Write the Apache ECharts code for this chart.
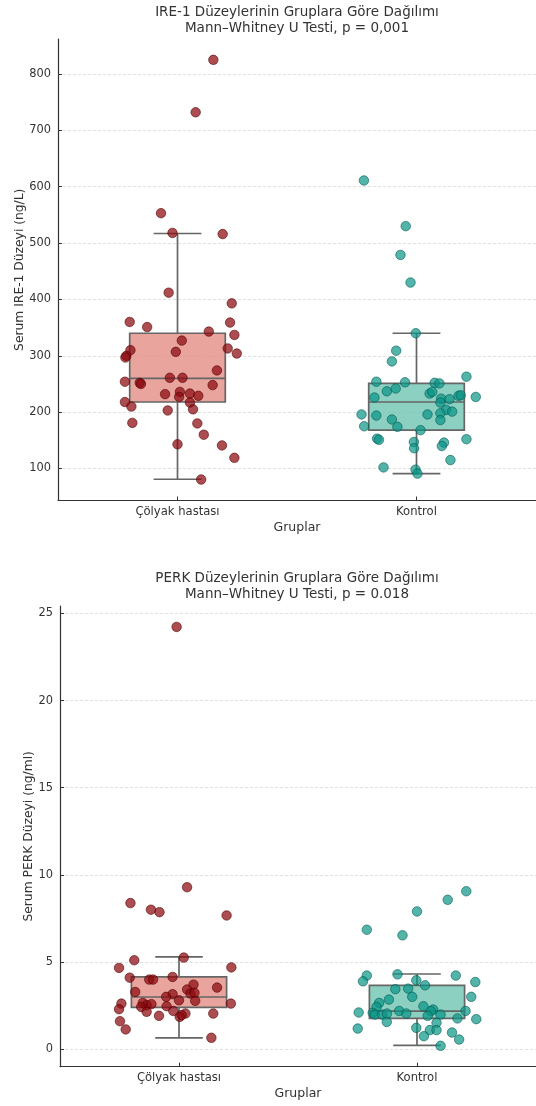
<!DOCTYPE html>
<html>
<head>
<meta charset="utf-8">
<script src="https://cdn.jsdelivr.net/npm/echarts@6/dist/echarts.min.js"></script>
<style>
html,body{margin:0;padding:0;background:#fff;}
#c{width:536px;height:1106px;}
</style>
</head>
<body>
<div id="c"></div>
<script>
const categories = ['Çölyak hastası', 'Kontrol'];
const ire1Ticks = [100, 200, 300, 400, 500, 600, 700, 800];
const perkTicks = [0, 5, 10, 15, 20, 25];

// box stats: [min whisker, Q1, median, Q3, max whisker]
const ire1Box = [[81, 218, 260, 340, 517], [91, 168, 218, 251, 340]];
const perkBox = [[0.65, 2.40, 2.99, 4.14, 5.29], [0.21, 1.76, 2.18, 3.66, 4.31]];

// IRE-1 points: values and horizontal jitter offsets
const ire1CeliacY = [825,732,553,518,516,412,393,360,351,359,343,337,327,310,300,297,307,313,304,254,252,250,261,261,274,248,232,236,227,233,229,218,210,203,217,205,181,180,160,143,141,119,80.5];
const ire1CeliacJ = [0.15,0.076,-0.069,-0.021,0.189,-0.037,0.227,-0.2,-0.127,0.22,0.131,0.238,0.018,-0.197,-0.214,-0.218,-0.007,0.21,0.248,-0.22,-0.158,-0.153,-0.032,0.021,0.165,0.147,-0.052,0.01,0.007,0.052,0.087,-0.22,-0.193,-0.041,0.052,0.065,-0.189,0.083,0.11,0,0.186,0.238,0.099];
const ire1ControlY = [611,530,479,430,340,309,290,254,253,263,252,251,237,242,233,236,226,224,223,229,230,227,217,196,194,196,204,201,198,186,187,174,175,168,153,151,152,147,136,146,140,115,102,98,91];
const ire1ControlJ = [-0.22,-0.045,-0.067,-0.025,-0.003,-0.085,-0.103,-0.168,-0.048,0.209,0.076,0.096,-0.124,-0.087,0.055,0.066,-0.176,0.103,0.138,0.176,0.185,0.248,0.1,-0.23,-0.168,0.046,0.124,0.149,0.1,0.1,-0.103,-0.08,-0.219,0.017,-0.165,-0.157,0.209,-0.011,-0.01,0.115,0.106,0.142,-0.138,-0.004,0.004];

// PERK points
const perkCeliacY = [24.23,9.29,8.38,8.0,7.86,7.67,5.25,5.1,4.66,4.69,4.1,3.99,3.99,4.14,3.7,3.42,3.53,3.28,3.19,3.23,3.15,3.0,2.77,2.8,2.61,2.29,2.65,2.52,2.58,2.42,2.46,2.61,2.14,1.91,2.19,2.04,1.85,1.95,2.04,1.6,1.13,0.65];
const perkCeliacJ = [-0.01,0.034,-0.204,-0.118,-0.082,0.2,0.02,-0.188,-0.252,0.22,-0.207,-0.125,-0.109,-0.027,0.061,0.034,0.16,-0.184,0.048,0.065,-0.027,-0.054,0.068,0,-0.242,-0.252,-0.152,-0.136,-0.116,-0.159,-0.052,0.218,-0.136,-0.084,-0.024,0.027,0.003,0.011,0.144,-0.248,-0.224,0.136];
const perkControlY = [9.06,8.57,7.9,6.85,6.53,4.22,3.89,4.29,4.22,3.85,3.95,3.66,3.44,3.47,3.0,3.0,2.84,2.65,2.42,2.1,2.08,1.98,1.98,2.04,2.19,2.04,2.46,2.27,2.18,1.91,1.98,1.76,2.19,1.72,1.56,1.18,1.22,1.51,1.09,1.09,0.74,0.95,0.55,0.19];
const perkControlJ = [0.207,0.129,0,-0.211,-0.061,-0.211,-0.227,-0.082,0.163,0.245,-0.003,0.034,-0.091,-0.037,-0.02,0.228,-0.118,-0.159,-0.17,-0.245,-0.186,-0.177,-0.146,-0.126,-0.075,-0.045,0.027,0.068,0.058,0.045,0.099,0.17,0.204,0.249,-0.127,-0.249,-0.003,0.082,0.054,0.082,0.029,0.147,0.177,0.099];

const FONT = 'DejaVu Sans';
const TXT = '#333';
const boxFill = ['rgba(226,138,130,0.78)', 'rgba(110,196,178,0.8)'];
const ptFill = ['rgba(140,8,14,0.9)', 'rgba(10,148,134,0.88)'];
const ptEdge = ['rgba(80,0,0,0.9)', 'rgba(0,85,80,0.9)'];

function pts(ys, js, cat) { return ys.map((y, i) => [cat + js[i], y]); }

function boxRender(params, api) {
  const c = api.value(0), mn = api.value(1), q1 = api.value(2), md = api.value(3), q3 = api.value(4), mx = api.value(5);
  const hw = 0.2, cw = 0.1;
  const tl = api.coord([c - hw, q3]), br = api.coord([c + hw, q1]);
  const ml = api.coord([c - hw, md]), mr = api.coord([c + hw, md]);
  const top = api.coord([c, mx]), bot = api.coord([c, mn]);
  const ctop = api.coord([c, q3]), cbot = api.coord([c, q1]);
  const capL1 = api.coord([c - cw, mx]), capR1 = api.coord([c + cw, mx]);
  const capL2 = api.coord([c - cw, mn]), capR2 = api.coord([c + cw, mn]);
  const ls = { stroke: '#666', lineWidth: 1.7 };
  return { type: 'group', children: [
    { type: 'line', shape: { x1: top[0], y1: top[1], x2: ctop[0], y2: ctop[1] }, style: ls },
    { type: 'line', shape: { x1: cbot[0], y1: cbot[1], x2: bot[0], y2: bot[1] }, style: ls },
    { type: 'line', shape: { x1: capL1[0], y1: capL1[1], x2: capR1[0], y2: capR1[1] }, style: ls },
    { type: 'line', shape: { x1: capL2[0], y1: capL2[1], x2: capR2[0], y2: capR2[1] }, style: ls },
    { type: 'rect', shape: { x: tl[0], y: tl[1], width: br[0] - tl[0], height: br[1] - tl[1] }, style: { fill: boxFill[c], stroke: '#666', lineWidth: 1.7 } },
    { type: 'line', shape: { x1: ml[0], y1: ml[1], x2: mr[0], y2: mr[1] }, style: ls }
  ]};
}

function xAxisDef(gi, gap) {
  return {
    type: 'value', gridIndex: gi, min: -0.5, max: 1.5,
    name: 'Gruplar', nameLocation: 'middle', nameGap: gap, nameMoveOverlap: false,
    nameTextStyle: { fontFamily: FONT, fontSize: 12.5, color: TXT },
    axisLine: { show: true, onZero: false, lineStyle: { color: '#333', width: 1.2 } },
    axisTick: { show: true, inside: true, length: 4, customValues: [0, 1], lineStyle: { color: '#333' } },
    axisLabel: { customValues: [0, 1], formatter: v => categories[Math.round(v)] || '', fontFamily: FONT, fontSize: 11.6, color: TXT, margin: 5 },
    splitLine: { show: false }
  };
}
function yAxisDef(gi, mn, mx, ticks, name, gap) {
  return {
    type: 'value', gridIndex: gi, min: mn, max: mx,
    name: name, nameLocation: 'middle', nameGap: gap, nameMoveOverlap: false,
    nameTextStyle: { fontFamily: FONT, fontSize: 12.3, color: TXT },
    axisLine: { show: true, onZero: false, lineStyle: { color: '#333', width: 1.2 } },
    axisTick: { show: true, inside: true, length: 4, customValues: ticks, lineStyle: { color: '#333' } },
    axisLabel: { customValues: ticks, fontFamily: FONT, fontSize: 11.4, color: TXT, margin: 7 },
    splitLine: { show: true, lineStyle: { color: '#d9d9d9', type: [3, 2], width: 0.8 } }
  };
}

const chart = echarts.init(document.getElementById('c'), null, { renderer: 'canvas' });
chart.setOption({
  backgroundColor: '#fff',
  animation: false,
  title: [
    { text: 'IRE-1 Düzeylerinin Gruplara Göre Dağılımı\nMann–Whitney U Testi, p = 0,001', left: 292, top: 0, textAlign: 'center',
      textStyle: { fontFamily: FONT, fontSize: 13.5, fontWeight: 'normal', color: TXT, lineHeight: 15.5 } },
    { text: 'PERK Düzeylerinin Gruplara Göre Dağılımı\nMann–Whitney U Testi, p = 0.018', left: 292, top: 566, textAlign: 'center',
      textStyle: { fontFamily: FONT, fontSize: 13.5, fontWeight: 'normal', color: TXT, lineHeight: 15.5 } }
  ],
  grid: [
    { left: 58, top: 39, right: -5, height: 461.5 },
    { left: 60, top: 606, right: -14, height: 460.7 }
  ],
  xAxis: [xAxisDef(0, 21), xAxisDef(1, 21)],
  yAxis: [
    yAxisDef(0, 43.3, 862, ire1Ticks, 'Serum IRE-1 Düzeyi (ng/L)', 32),
    yAxisDef(1, -1.01, 25.43, perkTicks, 'Serum PERK Düzeyi (ng/ml)', 25)
  ],
  series: [
    { type: 'custom', xAxisIndex: 0, yAxisIndex: 0, renderItem: boxRender, z: 2,
      data: ire1Box.map((b, i) => [i].concat(b)), encode: { x: 0, y: [1, 2, 3, 4, 5] } },
    { type: 'custom', xAxisIndex: 1, yAxisIndex: 1, renderItem: boxRender, z: 2,
      data: perkBox.map((b, i) => [i].concat(b)), encode: { x: 0, y: [1, 2, 3, 4, 5] } },
    { type: 'scatter', xAxisIndex: 0, yAxisIndex: 0, z: 5, symbolSize: 9.5, data: pts(ire1CeliacY, ire1CeliacJ, 0),
      itemStyle: { color: ptFill[0], borderColor: ptEdge[0], borderWidth: 0.8 } },
    { type: 'scatter', xAxisIndex: 0, yAxisIndex: 0, z: 5, symbolSize: 9.5, data: pts(ire1ControlY, ire1ControlJ, 1),
      itemStyle: { color: ptFill[1], borderColor: ptEdge[1], borderWidth: 0.8 } },
    { type: 'scatter', xAxisIndex: 1, yAxisIndex: 1, z: 5, symbolSize: 9.5, data: pts(perkCeliacY, perkCeliacJ, 0),
      itemStyle: { color: ptFill[0], borderColor: ptEdge[0], borderWidth: 0.8 } },
    { type: 'scatter', xAxisIndex: 1, yAxisIndex: 1, z: 5, symbolSize: 9.5, data: pts(perkControlY, perkControlJ, 1),
      itemStyle: { color: ptFill[1], borderColor: ptEdge[1], borderWidth: 0.8 } }
  ]
});
</script>
</body>
</html>
